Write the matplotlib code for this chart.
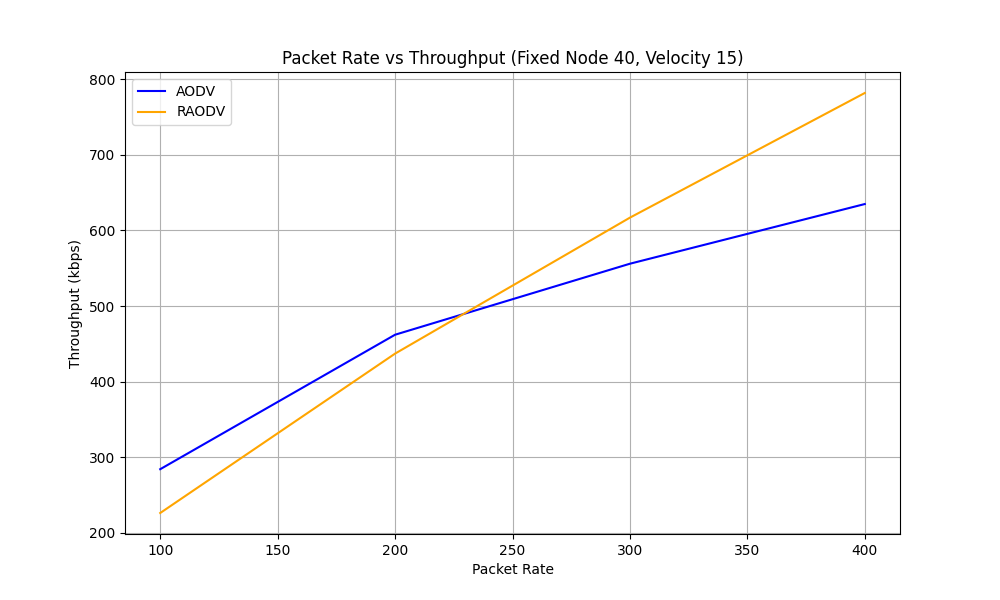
import matplotlib
matplotlib.use("Agg")
import matplotlib.pyplot as plt

packet_rate = [100, 200, 300, 400]
aodv = [284, 462, 556, 635]
raodv = [226, 437, 617, 782]

plt.figure(figsize=(10, 6))
plt.plot(packet_rate, aodv, color='blue', label='AODV')
plt.plot(packet_rate, raodv, color='orange', label='RAODV')
plt.title('Packet Rate vs Throughput (Fixed Node 40, Velocity 15)')
plt.xlabel('Packet Rate')
plt.ylabel('Throughput (kbps)')
plt.legend(loc='upper left')
plt.grid(True)
plt.savefig('out.png', dpi=100)
